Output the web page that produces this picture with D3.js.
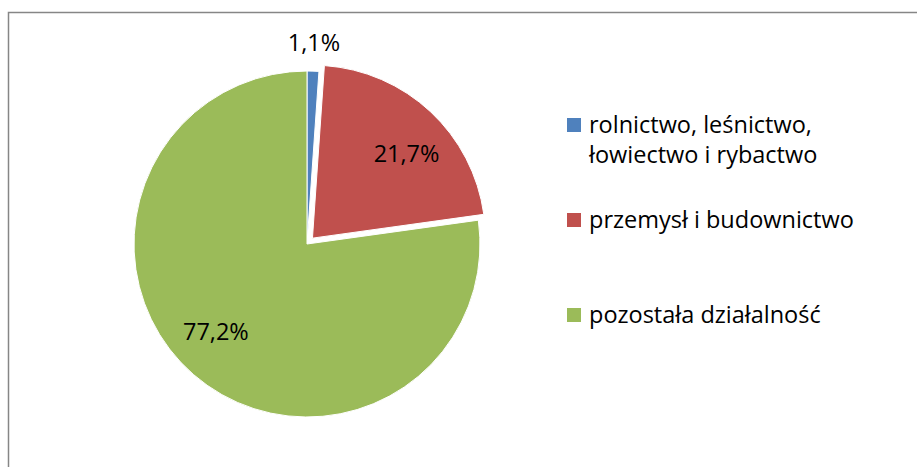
<!DOCTYPE html>
<html>
<head>
<meta charset="utf-8">
<script src="https://cdn.jsdelivr.net/npm/d3@7"></script>
<style>
  body { margin: 0; background: #fff; }
  text { font-family: "Open Sans", "Noto Sans", sans-serif; fill: #000; }
</style>
</head>
<body>
<div id="chart"></div>
<script>
var w = 917,
	h = 467;

// dane
var categories = ['rolnictwo, leśnictwo, łowiectwo i rybactwo', 'przemysł i budownictwo', 'pozostała działalność'];
var legendLines = [['rolnictwo, leśnictwo,', 'łowiectwo i rybactwo'], ['przemysł i budownictwo'], ['pozostała działalność']];
var values = [1.1, 21.7, 77.2];
var labels = ['1,1%', '21,7%', '77,2%'];
var colors = ['#4f81bd', '#c0504d', '#9bbb59'];
var exploded = [false, true, false];

var cx = 307, cy = 244, r = 173, explodeBy = 8;

var svg = d3.select('#chart')
	.append('svg')
	.attr('width', w)
	.attr('height', h);

// ramka wykresu
svg.append('rect')
	.attr('x', 8.5)
	.attr('y', 12.5)
	.attr('width', 940)
	.attr('height', 500)
	.attr('fill', 'none')
	.attr('stroke', '#868686')
	.attr('stroke-width', 1.5);

var pie = d3.pie().sort(null).value(function(d) { return d; });
var arcs = pie(values);

var arc = d3.arc().innerRadius(0).outerRadius(r);
var labelArc = d3.arc().innerRadius(r * 0.73).outerRadius(r * 0.73);
var outerArc = d3.arc().innerRadius(r + 29).outerRadius(r + 29);
var labelShift = 0.09; // excel przesuwa etykiety lekko zgodnie z ruchem wskazowek

function offset(d, i) {
	if (!exploded[i]) return [0, 0];
	var a = (d.startAngle + d.endAngle) / 2;
	return [Math.sin(a) * explodeBy, -Math.cos(a) * explodeBy];
}

var g = svg.append('g').attr('transform', 'translate(' + cx + ',' + cy + ')');

g.selectAll('path')
	.data(arcs)
	.enter()
	.append('path')
	.attr('d', arc)
	.attr('transform', function(d, i) { var o = offset(d, i); return 'translate(' + o[0] + ',' + o[1] + ')'; })
	.attr('fill', function(d, i) { return colors[i]; })
	.attr('stroke', '#fff')
	.attr('stroke-width', 1);

// etykiety
g.selectAll('text.lbl')
	.data(arcs)
	.enter()
	.append('text')
	.attr('class', 'lbl')
	.attr('transform', function(d, i) {
		var o = offset(d, i);
		var c;
		if ((d.endAngle - d.startAngle) < 0.2) {
			c = outerArc.centroid(d);
		} else {
			c = labelArc.centroid({startAngle: d.startAngle + labelShift, endAngle: d.endAngle + labelShift});
		}
		return 'translate(' + (c[0] + o[0]) + ',' + (c[1] + o[1]) + ')';
	})
	.attr('text-anchor', 'middle')
	.attr('dy', '0.36em')
	.attr('font-size', '23.5px')
	.text(function(d, i) { return labels[i]; });

// legenda
var legend = svg.append('g')
	.attr('class', 'legend')
	.attr('transform', 'translate(567,118)');

var legendY = [0, 95, 190];

var item = legend.selectAll('g')
	.data(categories)
	.enter()
	.append('g')
	.attr('transform', function(d, i) { return 'translate(0,' + legendY[i] + ')'; });

item.append('rect')
	.attr('x', 0)
	.attr('y', 0)
	.attr('width', 14)
	.attr('height', 14)
	.attr('fill', function(d, i) { return colors[i]; });

item.append('text')
	.attr('x', 22)
	.attr('y', 15)
	.attr('font-size', '23.5px')
	.selectAll('tspan')
	.data(function(d, i) { return legendLines[i]; })
	.enter()
	.append('tspan')
	.attr('x', 22)
	.attr('dy', function(d, j) { return j === 0 ? 0 : 30; })
	.text(function(d) { return d; });
</script>
</body>
</html>
